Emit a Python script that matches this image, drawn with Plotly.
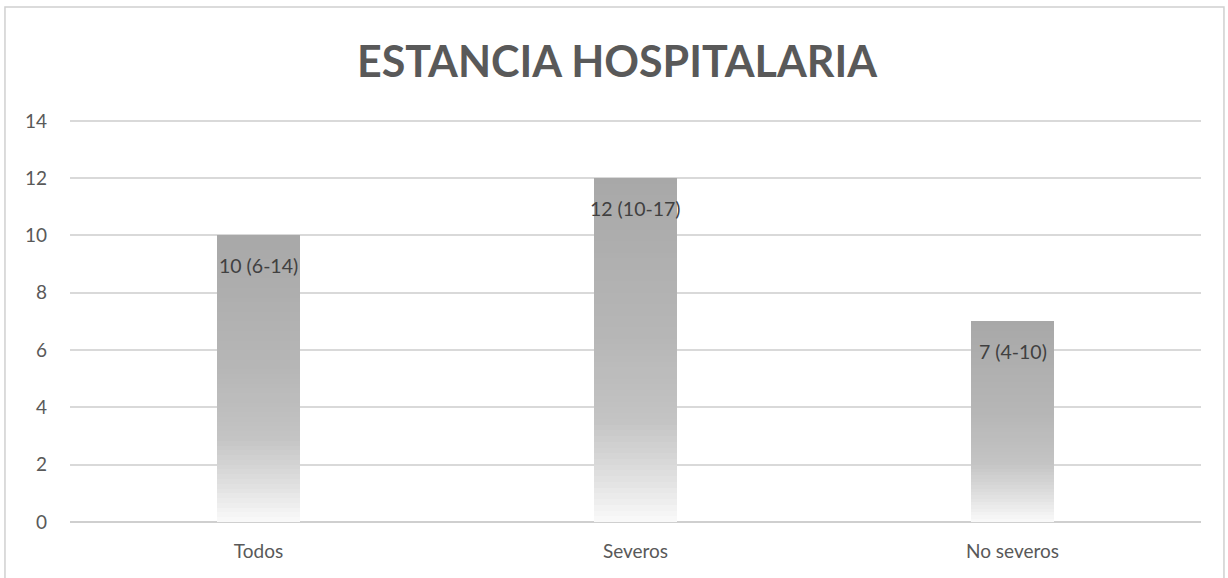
import plotly.graph_objects as go

categories = ["Todos", "Severos", "No severos"]
medians = [10, 12, 7]
labels = ["10 (6-14)", "12 (10-17)", "7 (4-10)"]
y_ticks = [0, 2, 4, 6, 8, 10, 12, 14]

title_text = "ESTANCIA HOSPITALARIA"

N = 60  # gradient steps
FONT = "Lato"


def grad_color(f):
    # f = 0 at top of bar, 1 at bottom
    stops = [(0.0, 168), (0.45, 182), (0.7, 195), (0.85, 220), (1.0, 250)]
    for (f0, c0), (f1, c1) in zip(stops[:-1], stops[1:]):
        if f0 <= f <= f1:
            t = (f - f0) / (f1 - f0)
            c = round(c0 + (c1 - c0) * t)
            return f"rgb({c},{c},{c})"
    return "rgb(250,250,250)"


fig = go.Figure()
for k in range(N):
    fig.add_trace(go.Bar(
        x=categories,
        y=[v / N for v in medians],
        base=[v * k / N for v in medians],
        width=0.22,
        marker=dict(color=grad_color(1 - (k + 0.5) / N), line=dict(width=0)),
        hoverinfo="skip",
        showlegend=False,
    ))

for c, v, t in zip(categories, medians, labels):
    fig.add_annotation(x=c, y=v, text=t, showarrow=False, yanchor="top", yshift=-17,
                       font=dict(family=FONT, size=19.5, color="#404040"))

fig.add_shape(type="rect", xref="paper", yref="paper", x0=-0.0575, x1=1.0203, y0=-0.3, y1=1.275,
              line=dict(color="#d0d0d0", width=1.5), layer="below")

fig.update_layout(
    width=1228, height=578,
    margin=dict(l=70, r=27, t=118, b=56),
    barmode="overlay",
    bargap=0,
    plot_bgcolor="white",
    paper_bgcolor="white",
    title=dict(text=f"<b>{title_text}</b>", x=0.5025, xanchor="center", y=0.893, yanchor="middle",
               font=dict(family=FONT, size=43, color="#595959")),
    xaxis=dict(showgrid=False, tickfont=dict(family=FONT, size=19, color="#595959"),
               ticks="", showline=False, ticklabelstandoff=16),
    yaxis=dict(range=[0, 14.1], tickvals=y_ticks, gridcolor="#d9d9d9", gridwidth=1.5,
               zeroline=True, zerolinecolor="#cfcfcf", zerolinewidth=2,
               tickfont=dict(family=FONT, size=19, color="#595959"),
               ticklabelstandoff=22, ticks=""),
)

fig.write_html("out.html")
